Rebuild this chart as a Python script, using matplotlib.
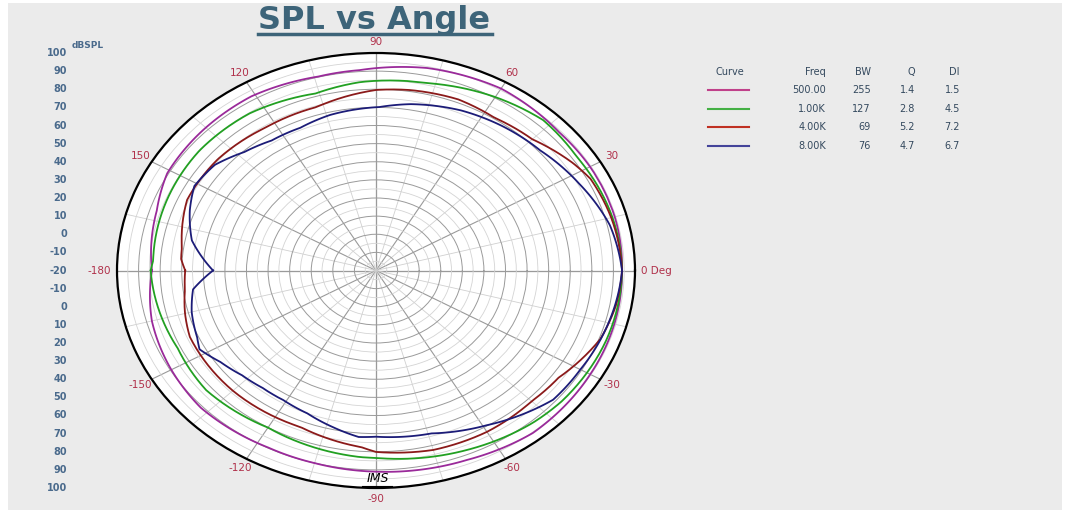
import numpy as np
import matplotlib
matplotlib.use("Agg")
import matplotlib.pyplot as plt
from matplotlib.lines import Line2D
from matplotlib.patches import Rectangle
from matplotlib.transforms import blended_transform_factory

plt.rcParams['font.family'] = ['DejaVu Sans']

# curve data, angle in degrees, level in dB SPL
ang_500 = [-180, -165, -150, -137, -117, -105, -90, -68, -51, -30, -15, 0, 15, 30, 42, 60, 78, 94, 104, 121, 137, 151, 162, 180]
db_500 = [83.8, 87.5, 89.5, 91.0, 89.7, 90.0, 91.0, 92.7, 95.4, 94.6, 94.3, 94.0, 94.5, 94.5, 94.1, 95.9, 94.2, 90.8, 90.3, 92.1, 91.4, 90.6, 86.8, 83.8]

ang_1k = [-180, -155, -140, -120, -94, -90, -67, -49, -40, -20, 0, 15, 34, 47, 60, 77, 94, 106, 124, 141, 158, 177, 180]
db_1k = [84.4, 81.4, 82.7, 80.1, 83.2, 83.4, 87.6, 91.1, 92.3, 93.4, 94.0, 93.4, 92.2, 93.5, 90.5, 86.1, 84.2, 81.6, 84.6, 85.2, 84.4, 83.4, 84.4]

ang_4k = [-180, -173, -165, -157, -135, -112, -94, -90, -75, -60, -45, -35, -20, -10, 0, 15, 27, 33, 45, 57, 68, 81, 90, 107, 123, 140, 156, 172, 176, 180]
db_4k = [68.4, 69.2, 71.6, 73.7, 73.8, 73.2, 77.7, 80.1, 82.5, 82.8, 82.0, 83.2, 90.6, 92.8, 94.0, 92.8, 91.5, 88.8, 82.4, 80.6, 81.8, 80.8, 79.6, 74.3, 74.0, 75.6, 75.8, 70.8, 70.5, 68.4]

ang_8k = [-180, -173, -165, -156, -152, -145, -137, -129, -121, -112, -103, -95, -90, -74, -59, -41, -30, -14,
          0, 13, 27, 41, 54, 66, 80, 89, 104, 114, 124, 133, 142, 151, 159, 169, 180]
db_8k = [55.5, 65.4, 68.4, 70.7, 72.6, 68.0, 64.8, 63.4, 63.4, 65.0, 68.7, 72.2, 71.7, 73.5, 79.6, 88.7, 89.3, 91.7,
         94.0, 91.2, 85.6, 80.9, 78.8, 76.7, 73.2, 70.2, 68.4, 66.2, 66.5, 69.4, 74.7, 76.2, 72.4, 66.9, 55.5]

curve_colors = ['#9a2a9a', '#22a022', '#8b1a1a', '#1c1c78']
legend_colors = ['#c0408a', '#44b044', '#c03022', '#44449a']
freq_labels = ['500.00', '1.00K', '4.00K', '8.00K']
bw_values = ['255', '127', '69', '76']
q_values = ['1.4', '2.8', '5.2', '4.7']
di_values = ['1.5', '4.5', '7.2', '6.7']

theta_label_angles = [0, 30, 60, 90, 120, 150, 180, -150, -120, -90, -60, -30]
theta_label_texts = ['0 Deg', '30', '60', '90', '120', '150', '-180', '-150', '-120', '-90', '-60', '-30']
scale_upper = [100, 90, 80, 70, 60, 50, 40, 30, 20, 10, 0, -10, -20]
scale_lower = [-10, 0, 10, 20, 30, 40, 50, 60, 70, 80, 90, 100]

W, H = 1070, 517
fig = plt.figure(figsize=(W / 100, H / 100), dpi=100)
fig.patch.set_facecolor('white')
fig.add_artist(Rectangle((8 / W, 1 - 510 / H), 1054 / W, 507 / H, transform=fig.transFigure,
                         facecolor='#ebebeb', edgecolor='none', zorder=-10))

ax = fig.add_axes([117 / W, 1 - 488 / H, 518 / W, 435 / H], projection='polar')
ax.set_aspect('auto')
ax.set_facecolor('white')
ax.set_ylim(-20, 100)

ax.set_xticks(np.deg2rad(np.arange(0, 360, 30)))
ax.set_xticks(np.deg2rad(np.arange(15, 360, 30)), minor=True)
ax.set_yticks(np.arange(-10, 101, 10))
ax.set_yticks(np.arange(-15, 100, 10), minor=True)
ax.set_xticklabels([])
ax.set_yticklabels([])
ax.tick_params(which='both', length=0)
ax.grid(which='major', axis='x', color='#9a9a9a', lw=0.8)
ax.grid(which='minor', axis='x', color='#d0d0d0', lw=0.6)
ax.grid(which='major', axis='y', color='#9a9a9a', lw=0.7)
ax.grid(which='minor', axis='y', color='#d4d4d4', lw=0.6)
ax.spines['polar'].set_color('black')
ax.spines['polar'].set_linewidth(1.6)

# main axes lines
for a in [0, 90, 180, 270]:
    t = np.deg2rad(a)
    ax.plot([t, t], [-20, 100], color='#555555', lw=0.8, zorder=1)

series = [(ang_500, db_500), (ang_1k, db_1k), (ang_4k, db_4k), (ang_8k, db_8k)]
for (a, d), c in zip(series, curve_colors):
    ln, = ax.plot(np.deg2rad(a), d, color=c, lw=1.3, zorder=3)
    ln.get_path()._interpolation_steps = 40  # let the polar transform bend the segments

# angle labels
lab = dict(color='#b0304a', fontsize=7.5, va='center', clip_on=False)
for a, s in zip(theta_label_angles, theta_label_texts):
    t = np.deg2rad(a)
    if a == 0:
        ax.text(t, 103, s, ha='left', **lab)
    elif a == 180:
        ax.text(t, 103, s, ha='right', **lab)
    else:
        ax.text(t, 106, s, ha='center', **lab)

# dB scale at left
tr = blended_transform_factory(fig.transFigure, ax.transAxes)
sc = dict(transform=tr, ha='right', va='center', color='#4a6a8c', fontsize=7, fontweight='bold')
for v in scale_upper:
    fig.text(67 / W, 0.5 + 0.5 * (v + 20) / 120, str(v), **sc)
for v in scale_lower:
    fig.text(67 / W, 0.5 - 0.5 * (v + 20) / 120, str(v), **sc)
fig.text(72 / W, 1 - 45 / H, 'dBSPL', ha='left', va='center', color='#4a6a8c', fontsize=6.5, fontweight='bold')

# title with underline
fig.text(374 / W, 1 - 29 / H, 'SPL vs Angle', ha='center', va='baseline', color='#3d6479',
         fontsize=23, fontweight='bold')
fig.add_artist(Line2D([258 / W, 492 / W], [1 - 34 / H, 1 - 34 / H], color='#3d6479', lw=2.5))

# IMS handwritten mark
fig.text(378 / W, 1 - 479 / H, 'IMS', ha='center', va='center', color='black', fontsize=9, style='italic')
fig.add_artist(Line2D([362 / W, 392 / W], [1 - 486 / H, 1 - 486 / H], color='black', lw=0.8))

# legend table
txt = dict(color='#34495e', fontsize=7, va='center')
fig.text(730 / W, 1 - 72 / H, 'Curve', ha='center', **txt)
fig.text(826 / W, 1 - 72 / H, 'Freq', ha='right', **txt)
fig.text(871 / W, 1 - 72 / H, 'BW', ha='right', **txt)
fig.text(915 / W, 1 - 72 / H, 'Q', ha='right', **txt)
fig.text(960 / W, 1 - 72 / H, 'DI', ha='right', **txt)
row_y = [90, 109, 127, 146]
for i in range(4):
    y = 1 - row_y[i] / H
    fig.add_artist(Line2D([708 / W, 749 / W], [y, y], color=legend_colors[i], lw=1.5))
    fig.text(826 / W, y, freq_labels[i], ha='right', **txt)
    fig.text(871 / W, y, bw_values[i], ha='right', **txt)
    fig.text(915 / W, y, q_values[i], ha='right', **txt)
    fig.text(960 / W, y, di_values[i], ha='right', **txt)

fig.savefig('out.png', dpi=100, facecolor=fig.get_facecolor())
